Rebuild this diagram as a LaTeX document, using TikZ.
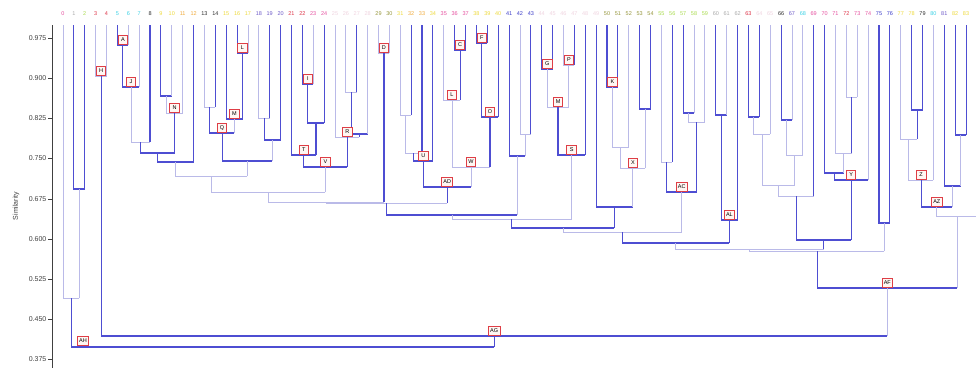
\documentclass[tikz,border=0pt]{standalone}
\usepackage{fontspec}
\setmainfont{Liberation Sans}
\usetikzlibrary{calc}
\definecolor{dkb}{RGB}{78,78,210}
\definecolor{ltb}{RGB}{186,186,232}
\definecolor{tagred}{RGB}{222,62,70}
\definecolor{tagfill}{RGB}{255,246,242}
\definecolor{cpk}{RGB}{230,80,160}
\definecolor{cgy}{RGB}{170,170,170}
\definecolor{cgn}{RGB}{170,220,80}
\definecolor{crd}{RGB}{222,52,72}
\definecolor{ccy}{RGB}{60,210,230}
\definecolor{cbk}{RGB}{45,45,45}
\definecolor{cyl}{RGB}{238,218,60}
\definecolor{cor}{RGB}{240,170,60}
\definecolor{cpu}{RGB}{110,90,200}
\definecolor{cpl}{RGB}{240,212,224}
\definecolor{col}{RGB}{150,150,60}
\definecolor{cbl}{RGB}{60,60,200}
\newcommand{\clust}[6]{%
  % #1 = nome, #2 = ramo esq., #3 = ramo dir., #4 = altura, #5/#6 = estilo esq./dir.
  \coordinate (lvl) at (0,#4);
  \draw[#5] (#2) -- (#2 |- lvl) -- (#3 |- lvl);
  \draw[#6] (#3 |- lvl) -- (#3);
  \coordinate (#1) at ($(#2 |- lvl)!0.5!(#3 |- lvl)$);
}

\begin{document}
\begin{tikzpicture}[x=1pt, y=-1pt,
    dk/.style={draw=dkb, line width=1.1pt},
    lt/.style={draw=ltb, line width=0.9pt},
    tag/.style={draw=tagred, fill=tagfill, line width=0.8pt, anchor=south,
      inner xsep=1.8pt, inner ysep=1pt, minimum height=9.5pt, minimum width=9.5pt,
      font=\fontsize{5.5}{6}\selectfont},
    leaf/.style={font=\fontsize{5.5}{6}\selectfont, inner sep=0pt}]

    \clip (0,0) rectangle (976,368);
    \fill[white] (0,0) rectangle (976,368);

    % eixo
    \draw[black!75, line width=0.8pt] (52,25) -- (52,368);
    \foreach \v/\yy in {0.975/38, 0.900/78, 0.825/118, 0.750/158, 0.675/199,
                        0.600/239, 0.525/279, 0.450/319, 0.375/359} {
      \draw[black!75, line width=0.8pt] (48,\yy) -- (52,\yy);
      \node[anchor=east, inner sep=0pt, text=black!75, font=\fontsize{7}{8}\selectfont] at (46.5,\yy) {\v};
    }
    \node[rotate=90, text=black!75, font=\fontsize{7}{8}\selectfont] at (16,206) {Similarity};

    % folhas
    \foreach \c [count=\i from 0] in {cpk,cgy,cgn,crd,crd,ccy,ccy,ccy,cbk,cyl,cyl,cor,cor,cbk,cbk,
        cyl,cyl,cyl,cpu,cpu,cpu,crd,crd,cpk,cpk,cpl,cpl,cpl,cpl,col,col,cyl,cor,cor,cyl,
        cpk,cpk,cpk,cyl,cyl,cyl,cbl,cbl,cbl,cpl,cpl,cpl,cpl,cpl,cpl,col,col,col,col,col,
        cgn,cgn,cgn,cgn,cgn,cgy,cgy,cgy,crd,cpl,cpl,cbk,cpu,ccy,cpk,cpk,cpk,crd,cpk,cpk,
        cbl,cbl,cyl,cyl,cbk,ccy,cpu,cyl,cyl} {
      \pgfmathsetmacro{\xf}{63+10.88*\i}
      \coordinate (l\i) at (\xf,25);
      \node[leaf, text=\c] at (\xf,14) {\i};
    }

    \clust{n12}{l1}{l2}{189}{dk}{dk}
    \clust{n0}{l0}{n12}{298}{lt}{lt}
    \clust{H}{l3}{l4}{76}{lt}{lt}
    \clust{A}{l5}{l6}{45}{dk}{lt}
    \clust{J}{A}{l7}{87}{dk}{lt}
    \clust{nJ}{J}{l8}{142}{lt}{dk}
    \clust{n910}{l9}{l10}{96}{dk}{lt}
    \clust{N}{n910}{l11}{113}{lt}{lt}
    \clust{nJN}{nJ}{N}{153}{dk}{dk}
    \clust{nJN12}{nJN}{l12}{162}{dk}{dk}
    \clust{n1314}{l13}{l14}{107}{lt}{dk}
    \clust{L}{l16}{l17}{53}{dk}{lt}
    \clust{M}{l15}{L}{119}{dk}{dk}
    \clust{Q}{n1314}{M}{133}{dk}{lt}
    \clust{n1819}{l18}{l19}{118}{lt}{dk}
    \clust{n20}{n1819}{l20}{140}{dk}{dk}
    \clust{nQ}{Q}{n20}{161}{dk}{lt}
    \clust{nE}{nJN12}{nQ}{176}{lt}{lt}
    \clust{I}{l22}{l23}{84}{dk}{lt}
    \clust{n24}{I}{l24}{123}{dk}{dk}
    \clust{T}{l21}{n24}{155}{dk}{dk}
    \clust{n2627}{l26}{l27}{92}{lt}{dk}
    \clust{n28}{n2627}{l28}{134}{dk}{lt}
    \clust{R}{l25}{n28}{137}{lt}{dk}
    \clust{V}{T}{R}{167}{dk}{dk}
    \clust{nEV}{nE}{V}{192}{lt}{lt}
    \clust{D}{l29}{l30}{53}{lt}{lt}
    \clust{nD}{nEV}{D}{202}{lt}{dk}
    \clust{n3132}{l31}{l32}{115}{lt}{dk}
    \clust{n33}{n3132}{l33}{153}{lt}{dk}
    \clust{U}{n33}{l34}{161}{dk}{dk}
    \clust{C}{l36}{l37}{50}{dk}{dk}
    \clust{L2}{l35}{C}{100}{lt}{dk}
    \clust{F}{l38}{l39}{43}{dk}{dk}
    \clust{O}{F}{l40}{117}{dk}{dk}
    \clust{W}{L2}{O}{167}{lt}{dk}
    \clust{AD}{U}{W}{187}{dk}{lt}
    \clust{nAD}{nD}{AD}{203}{lt}{dk}
    \clust{n4243}{l42}{l43}{134}{lt}{dk}
    \clust{n41}{l41}{n4243}{156}{dk}{lt}
    \clust{nB}{nAD}{n41}{215}{dk}{lt}
    \clust{G}{l44}{l45}{69}{dk}{dk}
    \clust{P}{l46}{l47}{65}{lt}{dk}
    \clust{M2}{G}{P}{107}{lt}{lt}
    \clust{S}{M2}{l48}{155}{dk}{dk}
    \clust{nS}{nB}{S}{219}{lt}{lt}
    \clust{K}{l50}{l51}{87}{dk}{dk}
    \clust{n52}{K}{l52}{147}{lt}{lt}
    \clust{n5354}{l53}{l54}{109}{dk}{dk}
    \clust{X}{n52}{n5354}{168}{lt}{lt}
    \clust{n49}{l49}{X}{207}{dk}{lt}
    \clust{nX}{nS}{n49}{228}{dk}{dk}
    \clust{n5556}{l55}{l56}{162}{lt}{dk}
    \clust{n5758}{l57}{l58}{113}{dk}{lt}
    \clust{n59}{n5758}{l59}{122}{lt}{lt}
    \clust{AC}{n5556}{n59}{192}{dk}{dk}
    \clust{nAC}{nX}{AC}{232}{lt}{lt}
    \clust{n6061}{l60}{l61}{115}{dk}{lt}
    \clust{AL}{n6061}{l62}{220}{dk}{dk}
    \clust{nAL}{nAC}{AL}{243}{dk}{dk}
    \clust{n6364}{l63}{l64}{117}{dk}{dk}
    \clust{n65}{n6364}{l65}{134}{lt}{lt}
    \clust{n6667}{l66}{l67}{120}{dk}{lt}
    \clust{n68}{n6667}{l68}{155}{lt}{lt}
    \clust{n6568}{n65}{n68}{185}{lt}{lt}
    \clust{n69}{n6568}{l69}{196}{lt}{dk}
    \clust{n7273}{l72}{l73}{97}{lt}{lt}
    \clust{n71}{l71}{n7273}{153}{lt}{dk}
    \clust{n70}{l70}{n71}{173}{dk}{lt}
    \clust{Y}{n70}{l74}{180}{dk}{lt}
    \clust{nY}{n69}{Y}{240}{dk}{dk}
    \clust{nR}{nAL}{nY}{249}{lt}{dk}
    \clust{n7576}{l75}{l76}{223}{dk}{dk}
    \clust{nR2}{nR}{n7576}{251}{lt}{lt}
    \clust{n7879}{l78}{l79}{110}{dk}{dk}
    \clust{n77}{l77}{n7879}{139}{lt}{dk}
    \clust{Z}{n77}{l80}{180}{lt}{lt}
    \clust{n8283}{l82}{l83}{135}{dk}{dk}
    \clust{n81}{l81}{n8283}{186}{dk}{lt}
    \clust{AZ}{Z}{n81}{207}{dk}{lt}
    \coordinate (lx) at (978,216);
    \clust{nAZ}{AZ}{lx}{216}{lt}{lt}
    \clust{AF}{nR2}{nAZ}{288}{dk}{lt}
    \clust{AG}{H}{AF}{336}{dk}{lt}
    \clust{AH}{n0}{AG}{347}{dk}{dk}

    % etiquetas
    \foreach \n/\t in {A/A, H/H, J/J, N/N, L/L, M/M, Q/Q, I/I, T/T, V/V, R/R, D/D,
                       C/C, F/F, L2/L, O/O, U/U, W/W, AD/AD, G/G, P/P, M2/M, S/S,
                       K/K, X/X, AC/AC, AL/AL, Y/Y, Z/Z, AZ/AZ, AF/AF, AG/AG} {
      \node[tag] at (\n) {\t};
    }
    \coordinate (ahtag) at (83,346);
    \node[tag] at (ahtag) {AH};

\end{tikzpicture}
\end{document}
